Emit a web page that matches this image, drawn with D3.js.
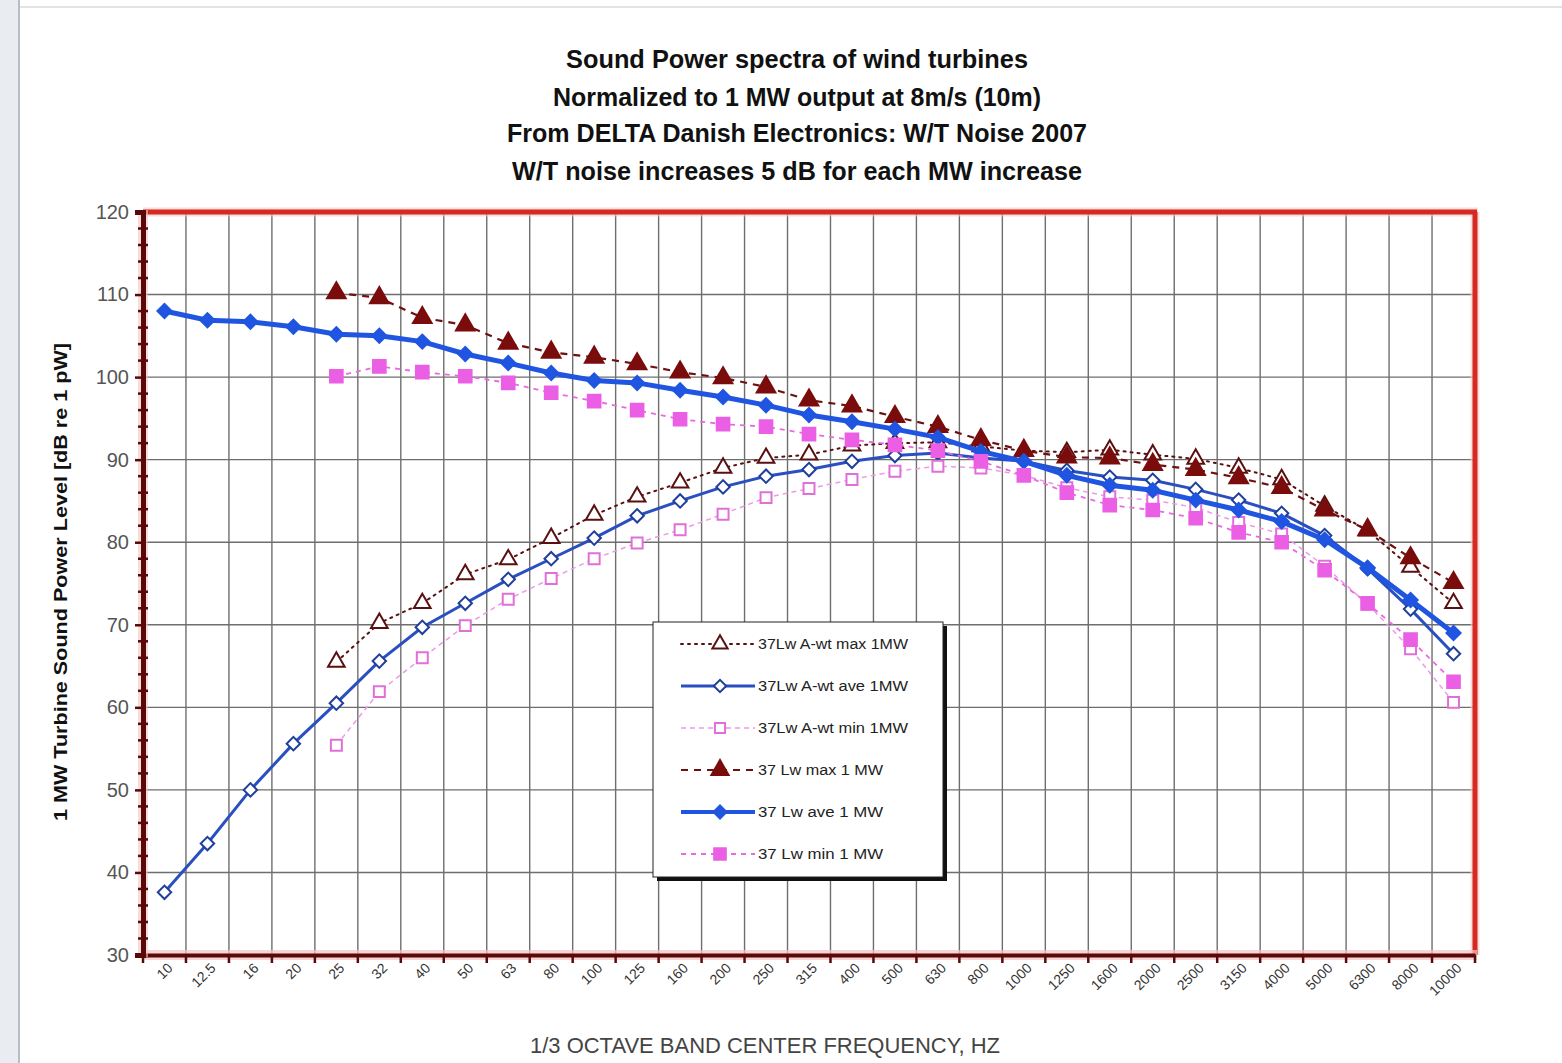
<!DOCTYPE html>
<html>
<head>
<meta charset="utf-8">
<script src="https://cdn.jsdelivr.net/npm/d3@7"></script>
<style>
  html, body { margin: 0; padding: 0; background: #ffffff; }
  svg { display: block; }
</style>
</head>
<body>
<svg id="chart" width="1562" height="1063"></svg>
<script>
// ---------- DATA ----------
const frequencies = ["10","12.5","16","20","25","31.5","40","50","63","80","100","125","160","200","250","315","400","500","630","800","1000","1250","1600","2000","2500","3150","4000","5000","6300","8000","10000"];
const tickLabels = ["10","12.5","16","20","25","32","40","50","63","80","100","125","160","200","250","315","400","500","630","800","1000","1250","1600","2000","2500","3150","4000","5000","6300","8000","10000"];
const yTicks = [30,40,50,60,70,80,90,100,110,120];

const titleLines = [
  "Sound Power spectra of  wind turbines",
  "Normalized to 1 MW output at 8m/s (10m)",
  "From DELTA Danish Electronics: W/T Noise 2007",
  "W/T noise increases  5 dB for each MW increase"
];
const yAxisTitle = "1 MW Turbine Sound Power Level [dB re 1 pW]";
const xAxisTitle = "1/3 OCTAVE BAND CENTER FREQUENCY, HZ";

const seriesNames = ["37Lw A-wt max  1MW","37Lw A-wt ave  1MW","37Lw A-wt min  1MW","37 Lw max 1 MW","37 Lw ave 1 MW","37 Lw min 1 MW"];

const awtMax = [null,null,null,null,65.5,70.2,72.6,76.1,77.9,80.5,83.3,85.5,87.2,89.0,90.2,90.6,91.7,92.0,92.1,91.6,91.1,90.9,91.2,90.6,90.1,89.0,87.6,84.4,81.4,77.0,72.6];
const awtAve = [37.6,43.5,50.0,55.6,60.5,65.6,69.7,72.6,75.5,78.0,80.5,83.2,85.0,86.7,88.0,88.8,89.8,90.5,90.8,90.2,89.8,88.7,87.9,87.5,86.4,85.1,83.5,80.8,76.8,71.9,66.5];
const awtMin = [null,null,null,null,55.4,61.9,66.0,69.9,73.1,75.6,78.0,79.9,81.5,83.4,85.4,86.5,87.6,88.6,89.2,89.0,88.1,86.6,85.5,85.1,84.2,82.4,81.0,77.1,72.5,67.1,60.6];
const lwMax  = [null,null,null,null,110.2,109.6,107.2,106.3,104.1,103.0,102.4,101.6,100.6,99.9,98.8,97.2,96.5,95.2,94.0,92.4,91.1,90.3,90.2,89.4,88.8,87.8,86.6,83.9,81.5,78.1,75.1];
const lwAve  = [108.0,106.9,106.7,106.1,105.2,105.0,104.3,102.8,101.7,100.5,99.6,99.3,98.4,97.6,96.6,95.4,94.6,93.7,92.7,91.0,89.8,88.1,86.9,86.3,85.1,83.9,82.5,80.3,76.9,73.0,69.0];
const lwMin  = [null,null,null,null,100.1,101.3,100.6,100.1,99.3,98.1,97.1,96.0,94.9,94.3,94.0,93.1,92.4,91.8,91.1,89.8,88.1,86.0,84.5,83.9,82.9,81.2,80.0,76.6,72.6,68.2,63.1];

const seriesValues = [awtMax, awtAve, awtMin, lwMax, lwAve, lwMin];

// ---------- STYLES ----------
const styles = [
  {stroke:"#5a1010", width:2, dash:"2,5", cap:"round", marker:"triangle", fill:"#ffffff", mstroke:"#5a1010", size:120},
  {stroke:"#2a4fc0", width:3, dash:null, cap:"butt", marker:"diamond", fill:"#ffffff", mstroke:"#1f3f9a", size:90},
  {stroke:"#ee99e6", width:1.5, dash:"5,4", cap:"butt", marker:"square", fill:"#ffffff", mstroke:"#e070d8", size:120},
  {stroke:"#6e1010", width:2.2, dash:"7,6", cap:"butt", marker:"triangle", fill:"#7a0c0c", mstroke:"#7a0c0c", size:150},
  {stroke:"#1f55e0", width:5, dash:null, cap:"butt", marker:"diamond", fill:"#1f55e0", mstroke:"#1f55e0", size:100},
  {stroke:"#e86ae0", width:1.8, dash:"5,5", cap:"butt", marker:"square", fill:"#ea5fe4", mstroke:"#ea5fe4", size:160}
];

// ---------- LAYOUT ----------
const W = 1562, H = 1063;
const plot = {left:143, right:1475, top:212, bottom:955};
const FONT = "'Liberation Sans Narrow','Liberation Sans',Arial,sans-serif";

const svg = d3.select("#chart");

// page frame
svg.append("rect").attr("x",0).attr("y",0).attr("width",18).attr("height",H).attr("fill","#e9edf1");
svg.append("line").attr("x1",19).attr("x2",19).attr("y1",0).attr("y2",H).attr("stroke","#b9bec4").attr("stroke-width",2);
svg.append("line").attr("x1",20).attr("x2",W).attr("y1",7).attr("y2",7).attr("stroke","#e3e3e3").attr("stroke-width",2);

const x = d3.scaleBand().domain(frequencies).range([plot.left, plot.right]).paddingInner(0).paddingOuter(0);
const y = d3.scaleLinear().domain([30,120]).range([plot.bottom, plot.top]);
const cx = f => x(f) + x.bandwidth()/2;

// gridlines
const grid = svg.append("g");
grid.selectAll(".vg").data(frequencies.slice(1)).enter().append("line")
  .attr("x1", d => x(d)).attr("x2", d => x(d))
  .attr("y1", plot.top).attr("y2", plot.bottom)
  .attr("stroke","#6e6e6e").attr("stroke-width",1.4);
grid.selectAll(".hg").data(yTicks.filter(t => t > 30 && t < 120)).enter().append("line")
  .attr("x1", plot.left).attr("x2", plot.right)
  .attr("y1", d => y(d)).attr("y2", d => y(d))
  .attr("stroke","#6e6e6e").attr("stroke-width",1.4);

// red top and right borders
svg.append("line").attr("x1",plot.left).attr("x2",plot.right+3).attr("y1",plot.top).attr("y2",plot.top)
  .attr("stroke","#f6c8c4").attr("stroke-width",9).attr("opacity",0.6);
svg.append("line").attr("x1",plot.right).attr("x2",plot.right).attr("y1",plot.top).attr("y2",plot.bottom)
  .attr("stroke","#f6c8c4").attr("stroke-width",9).attr("opacity",0.6);
svg.append("line").attr("x1",plot.left).attr("x2",plot.right+2).attr("y1",plot.top).attr("y2",plot.top)
  .attr("stroke","#d42a22").attr("stroke-width",5);
svg.append("line").attr("x1",plot.right).attr("x2",plot.right).attr("y1",plot.top).attr("y2",plot.bottom)
  .attr("stroke","#d42a22").attr("stroke-width",5);

// bottom axis with ticks
svg.append("line").attr("x1",plot.left).attr("x2",plot.right+2).attr("y1",plot.bottom).attr("y2",plot.bottom)
  .attr("stroke","#f4c4c4").attr("stroke-width",10).attr("opacity",0.7);
const xAxis = d3.axisBottom(x).tickSize(0).tickFormat("");
const gx = svg.append("g").attr("transform",`translate(0,${plot.bottom})`).call(xAxis);
gx.select(".domain").attr("stroke","#5a0808").attr("stroke-width",4);
const boundaries = frequencies.map(f => x(f)).concat([plot.right]);
svg.selectAll(".xt").data(boundaries).enter().append("line")
  .attr("x1", d => d).attr("x2", d => d)
  .attr("y1", plot.bottom).attr("y2", plot.bottom + 8)
  .attr("stroke","#5a0808").attr("stroke-width",2.5);

// x tick labels
svg.selectAll(".xl").data(frequencies).enter().append("text")
  .attr("transform", d => `translate(${cx(d)+9},${plot.bottom+14}) rotate(-45)`)
  .attr("text-anchor","end")
  .attr("font-family",FONT)
  .attr("font-size",14)
  .attr("fill","#333")
  .text((d,i) => tickLabels[i]);

// left axis
svg.append("line").attr("x1",plot.left).attr("x2",plot.left).attr("y1",plot.top-2).attr("y2",plot.bottom+2)
  .attr("stroke","#f4c4c4").attr("stroke-width",10).attr("opacity",0.6);
const yAxis = d3.axisLeft(y).tickValues(yTicks).tickSize(8).tickFormat(d3.format("d"));
const gy = svg.append("g").attr("transform",`translate(${plot.left},0)`).call(yAxis);
gy.select(".domain").attr("stroke","#5a0808").attr("stroke-width",5);
gy.selectAll(".tick line").attr("stroke","#5a0808").attr("stroke-width",2.5);
gy.selectAll(".tick text")
  .attr("font-family",FONT)
  .attr("font-size",20).attr("fill","#555").attr("x",-14);
// minor ticks
const minor = d3.range(32,120,2).filter(v => v % 10 !== 0);
svg.selectAll(".ym").data(minor).enter().append("line")
  .attr("x1", plot.left-5).attr("x2", plot.left+5)
  .attr("y1", d => y(d)).attr("y2", d => y(d))
  .attr("stroke","#5a0808").attr("stroke-width",2.5);

// ---------- SERIES ----------
function markerPath(type, size) {
  if (type === "triangle") return d3.symbol().type(d3.symbolTriangle).size(size)();
  return d3.symbol().type(d3.symbolSquare).size(size)();
}
const seriesG = svg.append("g");
seriesValues.forEach((vals, si) => {
  const st = styles[si];
  const pts = frequencies.map((f,i) => ({f, v: vals[i]})).filter(p => p.v !== null);
  const line = d3.line().x(p => cx(p.f)).y(p => y(p.v));
  seriesG.append("path").datum(pts)
    .attr("d", line).attr("fill","none")
    .attr("stroke", st.stroke).attr("stroke-width", st.width)
    .attr("stroke-dasharray", st.dash).attr("stroke-linecap", st.cap);
  seriesG.selectAll(null).data(pts).enter().append("path")
    .attr("d", markerPath(st.marker, st.size))
    .attr("transform", p => `translate(${cx(p.f)},${y(p.v)})` + (st.marker === "diamond" ? " rotate(45)" : ""))
    .attr("fill", st.fill).attr("stroke", st.mstroke).attr("stroke-width", 2);
});

// ---------- LEGEND ----------
const lg = {x:653, y:622, w:290, h:255};
svg.append("rect").attr("x",lg.x+4).attr("y",lg.y+4).attr("width",lg.w).attr("height",lg.h).attr("fill","#111");
svg.append("rect").attr("x",lg.x).attr("y",lg.y).attr("width",lg.w).attr("height",lg.h)
  .attr("fill","#ffffff").attr("stroke","#222").attr("stroke-width",1);
const legendItems = svg.append("g").selectAll("g").data(seriesNames).enter().append("g")
  .attr("transform",(d,i) => `translate(${lg.x},${lg.y + 22 + i*42})`);
legendItems.append("line").attr("x1",28).attr("x2",102).attr("y1",0).attr("y2",0)
  .attr("stroke",(d,i)=>styles[i].stroke).attr("stroke-width",(d,i)=>Math.min(styles[i].width,4))
  .attr("stroke-dasharray",(d,i)=>styles[i].dash).attr("stroke-linecap",(d,i)=>styles[i].cap);
legendItems.append("path")
  .attr("d",(d,i)=>markerPath(styles[i].marker, styles[i].size*0.85))
  .attr("transform",(d,i)=>"translate(67,0)" + (styles[i].marker==="diamond"?" rotate(45)":""))
  .attr("fill",(d,i)=>styles[i].fill).attr("stroke",(d,i)=>styles[i].mstroke).attr("stroke-width",2);
legendItems.append("text").attr("x",105).attr("y",5)
  .attr("font-family",FONT)
  .attr("font-size",14).attr("fill","#222")
  .attr("textLength",(d,i)=> i < 3 ? 150 : 125).attr("lengthAdjust","spacingAndGlyphs")
  .text(d => d);

// ---------- TITLES ----------
const titleWidths = [462, 488, 580, 570];
svg.selectAll(".title").data(titleLines).enter().append("text")
  .attr("x", 797).attr("y",(d,i) => [68,106,142,180][i])
  .attr("text-anchor","middle")
  .attr("font-family",FONT)
  .attr("font-weight","bold").attr("font-size",26).attr("fill","#111")
  .attr("textLength",(d,i)=>titleWidths[i]).attr("lengthAdjust","spacingAndGlyphs")
  .text(d => d);

svg.append("text")
  .attr("transform",`translate(67,582) rotate(-90)`)
  .attr("text-anchor","middle")
  .attr("font-family",FONT)
  .attr("font-weight","bold").attr("font-size",19).attr("fill","#111")
  .attr("textLength",478).attr("lengthAdjust","spacingAndGlyphs")
  .text(yAxisTitle);

svg.append("text")
  .attr("x",765).attr("y",1053)
  .attr("text-anchor","middle")
  .attr("font-family",FONT)
  .attr("font-size",22).attr("fill","#444")
  .attr("textLength",470).attr("lengthAdjust","spacingAndGlyphs")
  .text(xAxisTitle);
</script>
</body>
</html>
